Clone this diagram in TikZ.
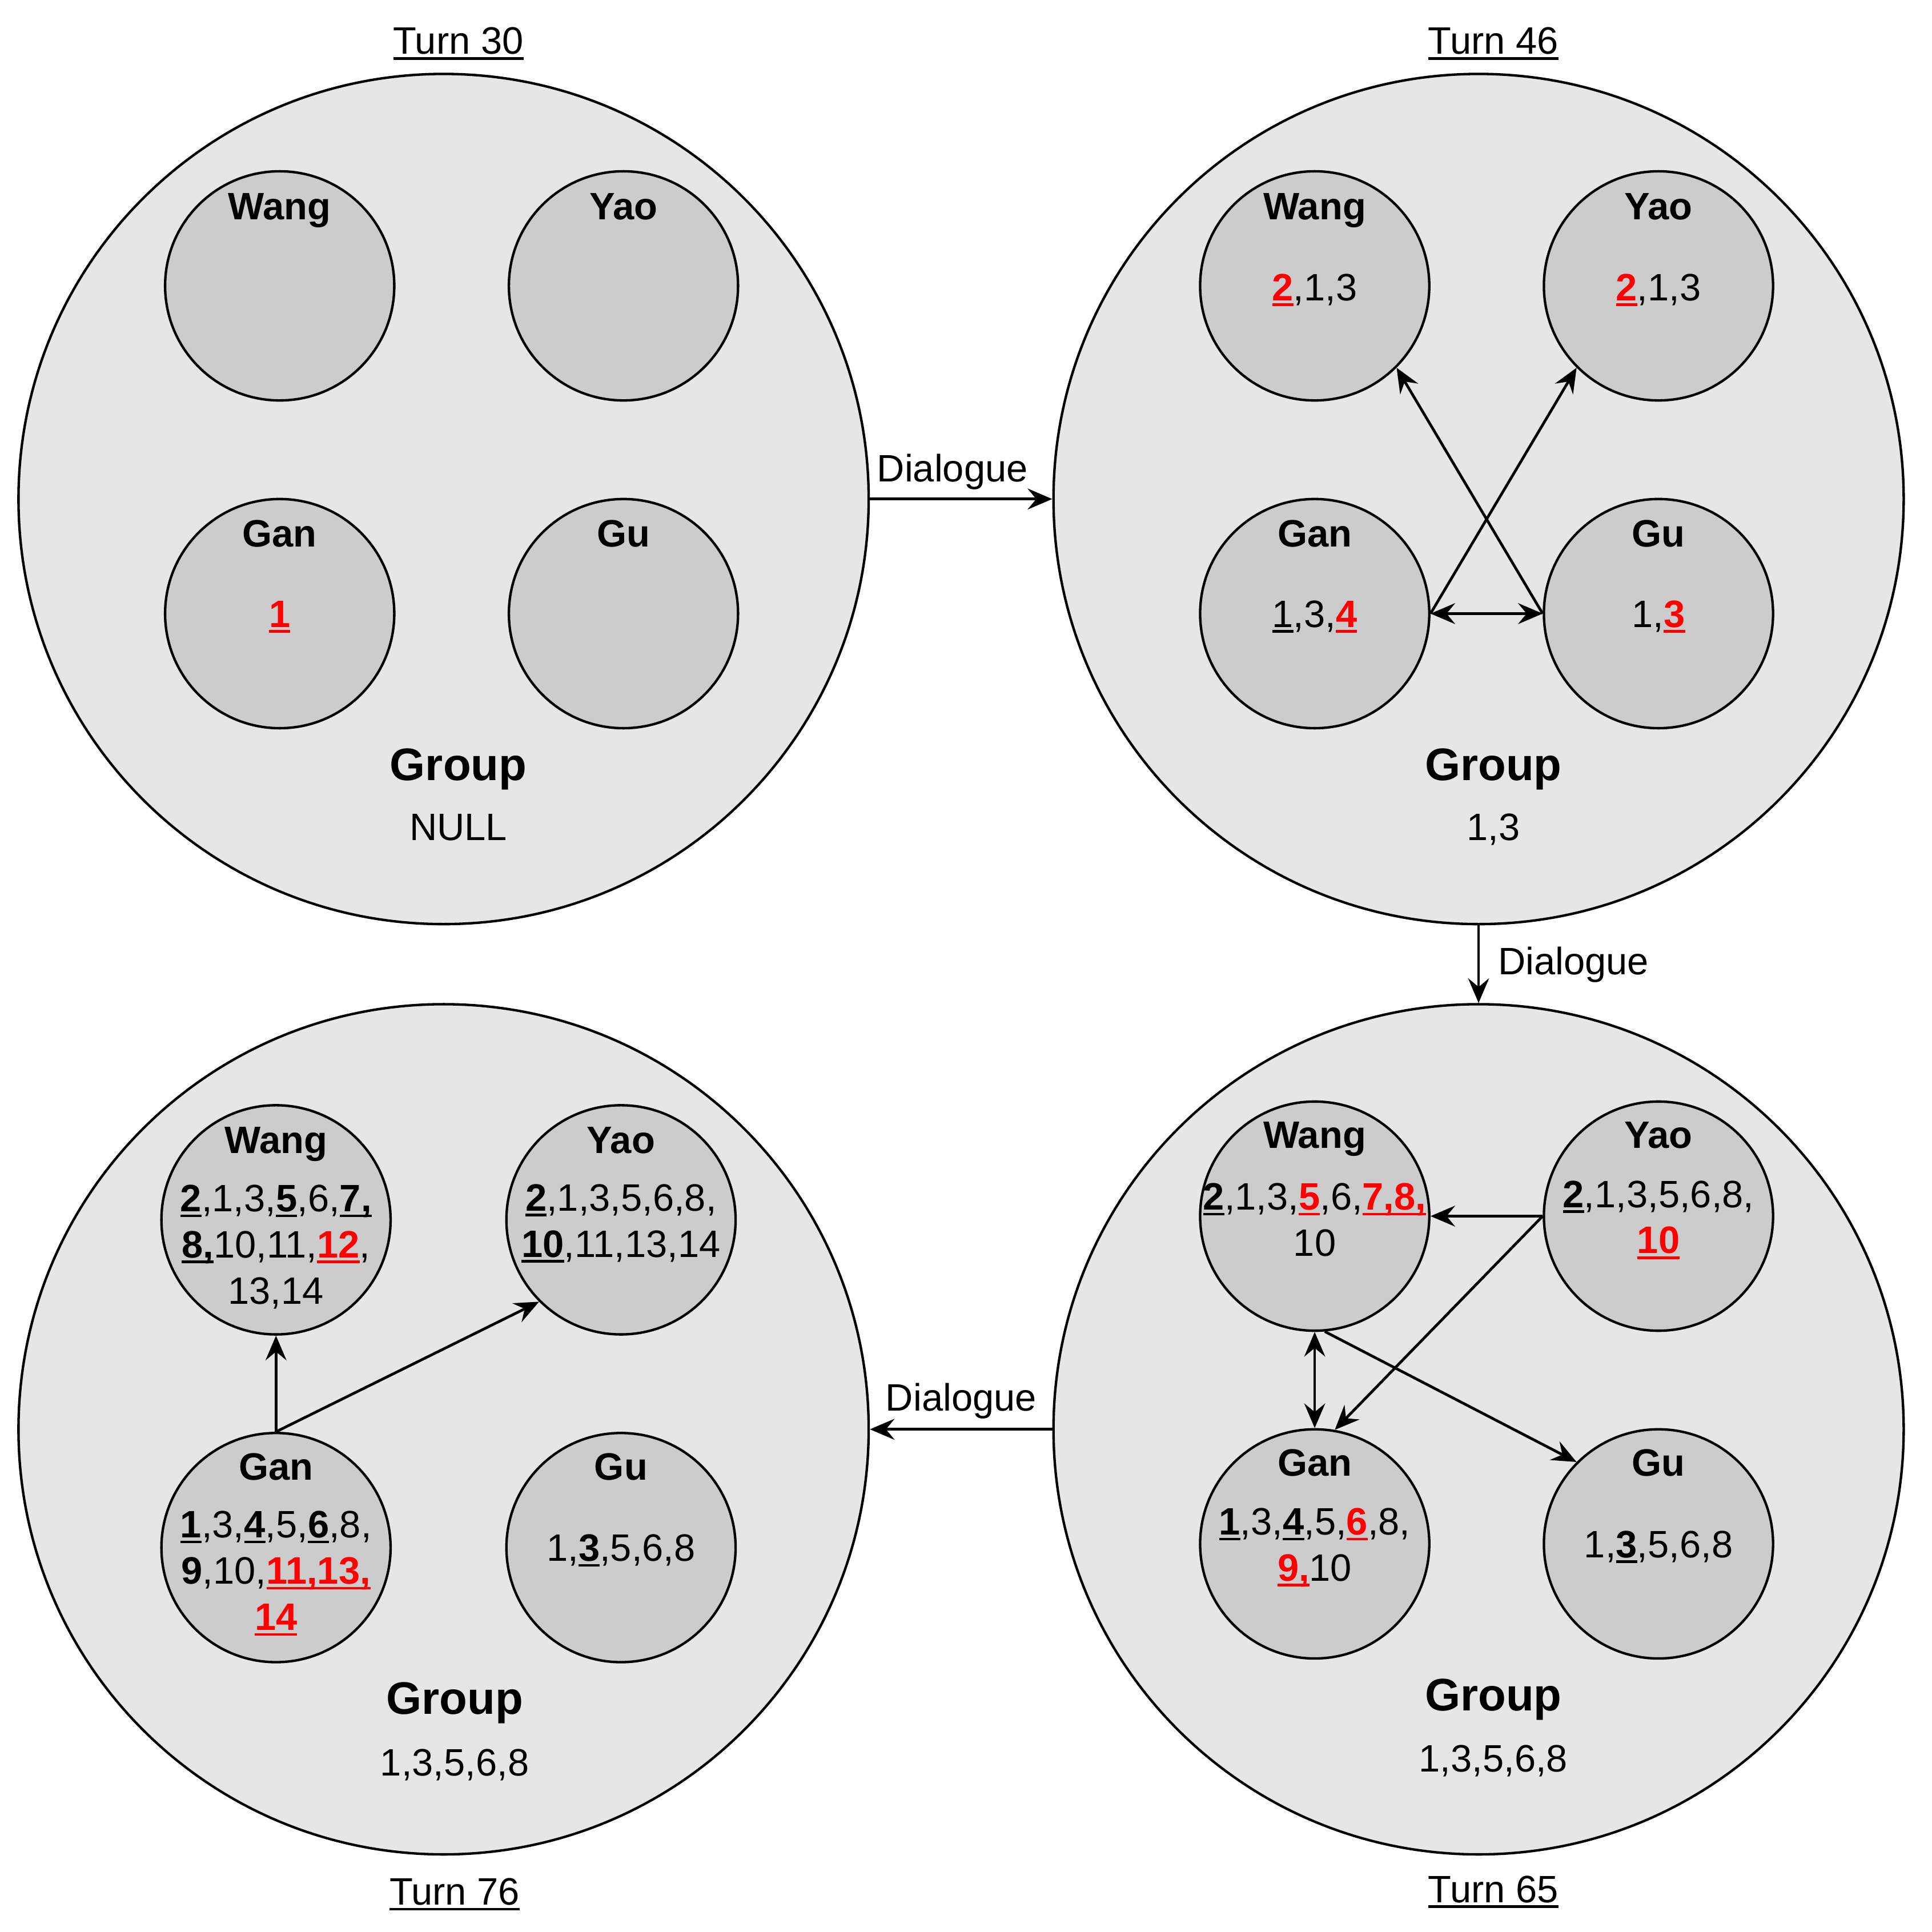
\documentclass[tikz,border=0pt]{standalone}
\usepackage{fontspec}
\setmainfont{Liberation Sans}
\usetikzlibrary{arrows.meta}
\definecolor{bigfill}{HTML}{E6E6E6}
\definecolor{smallfill}{HTML}{CCCCCC}
\definecolor{redtxt}{HTML}{FF0000}
\newcommand{\ulx}[1]{\setbox0=\hbox{#1}\rlap{\rule[-4.5pt]{\wd0}{2.2pt}}\box0\relax}
\newcommand{\blkul}[1]{\ulx{\textbf{#1}}}
\newcommand{\redul}[1]{\textcolor{redtxt}{\ulx{\textbf{#1}}}}
\begin{document}
\begin{tikzpicture}[x=1pt,y=-1pt,
  big/.style={circle, draw, line width=2pt, fill=bigfill, minimum size=690pt, inner sep=0pt},
  small/.style={circle, draw, line width=2pt, fill=smallfill, minimum size=186pt, inner sep=0pt},
  tip/.tip={Stealth[length=20pt,width=17pt,inset=7pt]},
  conn/.style={line width=2.2pt, -tip},
  both/.style={line width=2.2pt, tip-tip},
  nm/.style={font=\bfseries\fontsize{31}{37}\selectfont, inner sep=0pt, text height=22pt, text depth=0pt},
  txt/.style={font=\fontsize{31}{37.5}\selectfont, align=center, inner sep=0pt},
  grp/.style={font=\bfseries\fontsize{37}{44}\selectfont, inner sep=0pt, text height=26.5pt, text depth=0pt},
  lbl/.style={font=\fontsize{31}{37}\selectfont, inner sep=0pt, text height=22pt, text depth=0pt},
]
\useasboundingbox (0,0) rectangle (1568,1568);
\fill[white] (0,0) rectangle (1568,1568);

% ---------- big circles ----------
\node[big] (tl) at (360,405) {};
\node[big] (tr) at (1200,405) {};
\node[big] (br) at (1200,1160) {};
\node[big] (bl) at (360,1160) {};

% ---------- turn labels ----------
\node[lbl] (t30) at (372,33) {\ulx{Turn 30}};
\node[lbl] (t46) at (1212,33) {\ulx{Turn 46}};
\node[lbl] (t76) at (369,1535) {\ulx{Turn 76}};
\node[lbl] (t65) at (1212,1533) {\ulx{Turn 65}};

% ---------- group labels ----------
\node[grp] (tlg) at (372,620) {Group};
\node[lbl] (tlgv) at (372,671) {NULL};
\node[grp] (trg) at (1212,620) {Group};
\node[lbl] (trgv) at (1212,671) {1,3};
\node[grp] (brg) at (1212,1375) {Group};
\node[lbl] (brgv) at (1212,1427) {1,3,5,6,8};
\node[grp] (blg) at (369,1378) {Group};
\node[lbl] (blgv) at (369,1430) {1,3,5,6,8};

% ---------- TL: Turn 30 ----------
\node[small] (tlwang) at (227,232) {};
\node[small] (tlyao) at (506,232) {};
\node[small] (tlgan) at (227,498) {};
\node[small] (tlgu) at (506,498) {};
\node[nm] (tlwangn) at (227,167) {Wang};
\node[nm] (tlyaon) at (506,167) {Yao};
\node[nm] (tlgann) at (227,433) {Gan};
\node[nm] (tlgun) at (506,433) {Gu};
\node[lbl] (tlgant) at (227,498) {\redul{1}};

% ---------- TR: Turn 46 ----------
\node[small] (trwang) at (1067,232) {};
\node[small] (tryao) at (1346,232) {};
\node[small] (trgan) at (1067,498) {};
\node[small] (trgu) at (1346,498) {};
\node[nm] (trwangn) at (1067,167) {Wang};
\node[nm] (tryaon) at (1346,167) {Yao};
\node[nm] (trgann) at (1067,433) {Gan};
\node[nm] (trgun) at (1346,433) {Gu};
\node[lbl] (trwangt) at (1067,233) {\redul{2},1,3};
\node[lbl] (tryaot) at (1346,233) {\redul{2},1,3};
\node[lbl] (trgant) at (1067,498) {\ulx{1},3,\redul{4}};
\node[lbl] (trgut) at (1346,498) {1,\redul{3}};
\draw[conn] (trgu.west) -- (trwang.south east);
\draw[conn] (trgan.east) -- (tryao.south west);
\draw[both] (trgan.east) -- (trgu.west);

% ---------- BR: Turn 65 ----------
\node[small] (brwang) at (1067,987) {};
\node[small] (bryao) at (1346,987) {};
\node[small] (brgan) at (1067,1253) {};
\node[small] (brgu) at (1346,1253) {};
\node[nm] (brwangn) at (1067,921) {Wang};
\node[nm] (bryaon) at (1346,921) {Yao};
\node[nm] (brgann) at (1067,1187) {Gan};
\node[nm] (brgun) at (1346,1187) {Gu};
\node[txt] (brwangt) at (1067,990) {\blkul{2},1,3,\redul{5},6,\redul{7,8,}\\10};
\node[txt] (bryaot) at (1346,990) {\blkul{2},1,3,5,6,8,\\\redul{10}};
\node[txt] (brgant) at (1067,1256) {\blkul{1},3,\blkul{4},5,\redul{6},8,\\\redul{9,}10};
\node[lbl] (brgut) at (1346,1253) {1,\blkul{3},5,6,8};
\draw[conn] (bryao.west) -- (brwang.east);
\draw[conn] (bryao.west) -- (brgan.80);
\draw[both] (brwang.south) -- (brgan.north);
\draw[conn] (brwang.-85) -- (brgu.north west);

% ---------- BL: Turn 76 ----------
\node[small] (blwang) at (224,990) {};
\node[small] (blyao) at (504,990) {};
\node[small] (blgan) at (224,1256) {};
\node[small] (blgu) at (504,1256) {};
\node[nm] (blwangn) at (224,925) {Wang};
\node[nm] (blyaon) at (504,925) {Yao};
\node[nm] (blgann) at (224,1190) {Gan};
\node[nm] (blgun) at (504,1190) {Gu};
\node[txt] (blwangt) at (224,1012) {\blkul{2},1,3,\blkul{5},6,\blkul{7,}\\\blkul{8,}10,11,\redul{12},\\13,14};
\node[txt] (blyaot) at (504,993) {\blkul{2},1,3,5,6,8,\\\blkul{10},11,13,14};
\node[txt] (blgant) at (224,1277) {\blkul{1},3,\blkul{4},5,\blkul{6},8,\\\textbf{9},10,\redul{11,13,}\\\redul{14}};
\node[lbl] (blgut) at (504,1256) {1,\blkul{3},5,6,8};
\draw[conn] (blgan.north) -- (blwang.south);
\draw[conn] (blgan.north) -- (blyao.south west);

% ---------- dialogue connectors ----------
\draw[conn] (tl.east) -- (tr.west);
\node[lbl] (d1) at (773,380) {Dialogue};
\draw[conn] (tr.south) -- (br.north);
\node[lbl] (d2) at (1277,780) {Dialogue};
\draw[conn] (br.west) -- (bl.east);
\node[lbl] (d3) at (780,1134) {Dialogue};
\end{tikzpicture}
\end{document}
